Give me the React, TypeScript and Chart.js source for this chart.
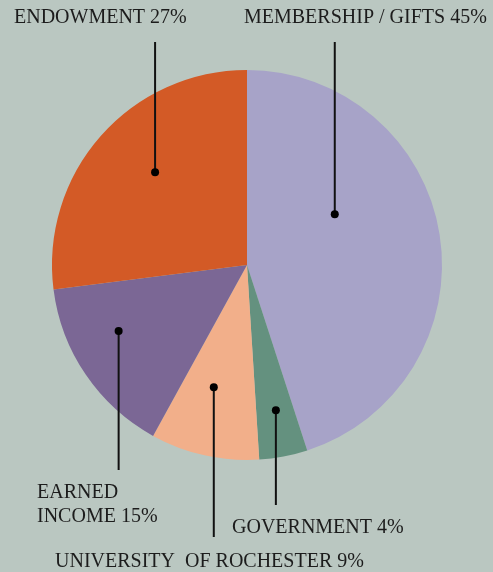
import React, { useEffect, useRef } from "react";
import { Chart, registerables } from "chart.js";

Chart.register(...registerables);

const categories = ["MEMBERSHIP / GIFTS", "GOVERNMENT", "UNIVERSITY  OF ROCHESTER", "EARNED INCOME", "ENDOWMENT"];
const values = [45, 4, 9, 15, 27];
const colors = ["#a7a3c8", "#64917f", "#f2af8a", "#7b6795", "#d35a26"];
const labelLines = [
  ["MEMBERSHIP / GIFTS 45%"],
  ["GOVERNMENT 4%"],
  ["UNIVERSITY  OF ROCHESTER 9%"],
  ["EARNED", "INCOME 15%"],
  ["ENDOWMENT 27%"],
];

// leader-line layout: dot placed at fraction of slice angle / radius, line runs vertically to lineEnd
const layout = [
  { af: 0.37, rf: 0.52, lineEnd: 42, tx: 244, ty: 22.5 },
  { af: 0.47, rf: 0.76, lineEnd: 505, tx: 232, ty: 533 },
  { af: 0.58, rf: 0.65, lineEnd: 537, tx: 55, ty: 567 },
  { af: 0.63, rf: 0.74, lineEnd: 470, tx: 37, ty: 498 },
  { af: 0.54, rf: 0.67, lineEnd: 42, tx: 14, ty: 22.5 },
];

const BG = "#bac7c1";

const leaderPlugin = {
  id: "leaders",
  afterDraw(chart: any) {
    const ctx = chart.ctx;
    const meta = chart.getDatasetMeta(0);
    ctx.save();
    meta.data.forEach((arc: any, i: number) => {
      const p = arc.getProps(["x", "y", "startAngle", "endAngle", "outerRadius"], true);
      const L = layout[i];
      const a = p.startAngle + (p.endAngle - p.startAngle) * L.af;
      const r = p.outerRadius * L.rf;
      const dx = p.x + Math.cos(a) * r;
      const dy = p.y + Math.sin(a) * r;
      ctx.strokeStyle = "#111";
      ctx.lineWidth = 2;
      ctx.beginPath();
      ctx.moveTo(dx, dy);
      ctx.lineTo(dx, L.lineEnd);
      ctx.stroke();
      ctx.fillStyle = "#000";
      ctx.beginPath();
      ctx.arc(dx, dy, 4, 0, Math.PI * 2);
      ctx.fill();
      ctx.fillStyle = "#1c1c1c";
      ctx.font = '20px "Liberation Serif", serif';
      ctx.textAlign = "left";
      ctx.textBaseline = "alphabetic";
      labelLines[i].forEach((t, j) => {
        ctx.fillText(t, L.tx, L.ty + j * 24);
      });
    });
    ctx.restore();
  },
};

export default function App() {
  const ref = useRef<HTMLCanvasElement>(null);
  useEffect(() => {
    const chart = new Chart(ref.current!, {
      type: "pie",
      data: {
        labels: categories,
        datasets: [{ data: values, backgroundColor: colors, borderWidth: 0 }],
      },
      options: {
        animation: false,
        responsive: false,
        maintainAspectRatio: false,
        layout: { padding: { left: 52, right: 51, top: 70, bottom: 112 } },
        plugins: { legend: { display: false }, tooltip: { enabled: false } },
      },
      plugins: [leaderPlugin],
    });
    return () => chart.destroy();
  }, []);
  return (
    <div style={{ position: "fixed", left: 0, top: 0, width: 493, height: 572, background: BG }}>
      <canvas ref={ref} width={493} height={572} style={{ display: "block" }} />
    </div>
  );
}
